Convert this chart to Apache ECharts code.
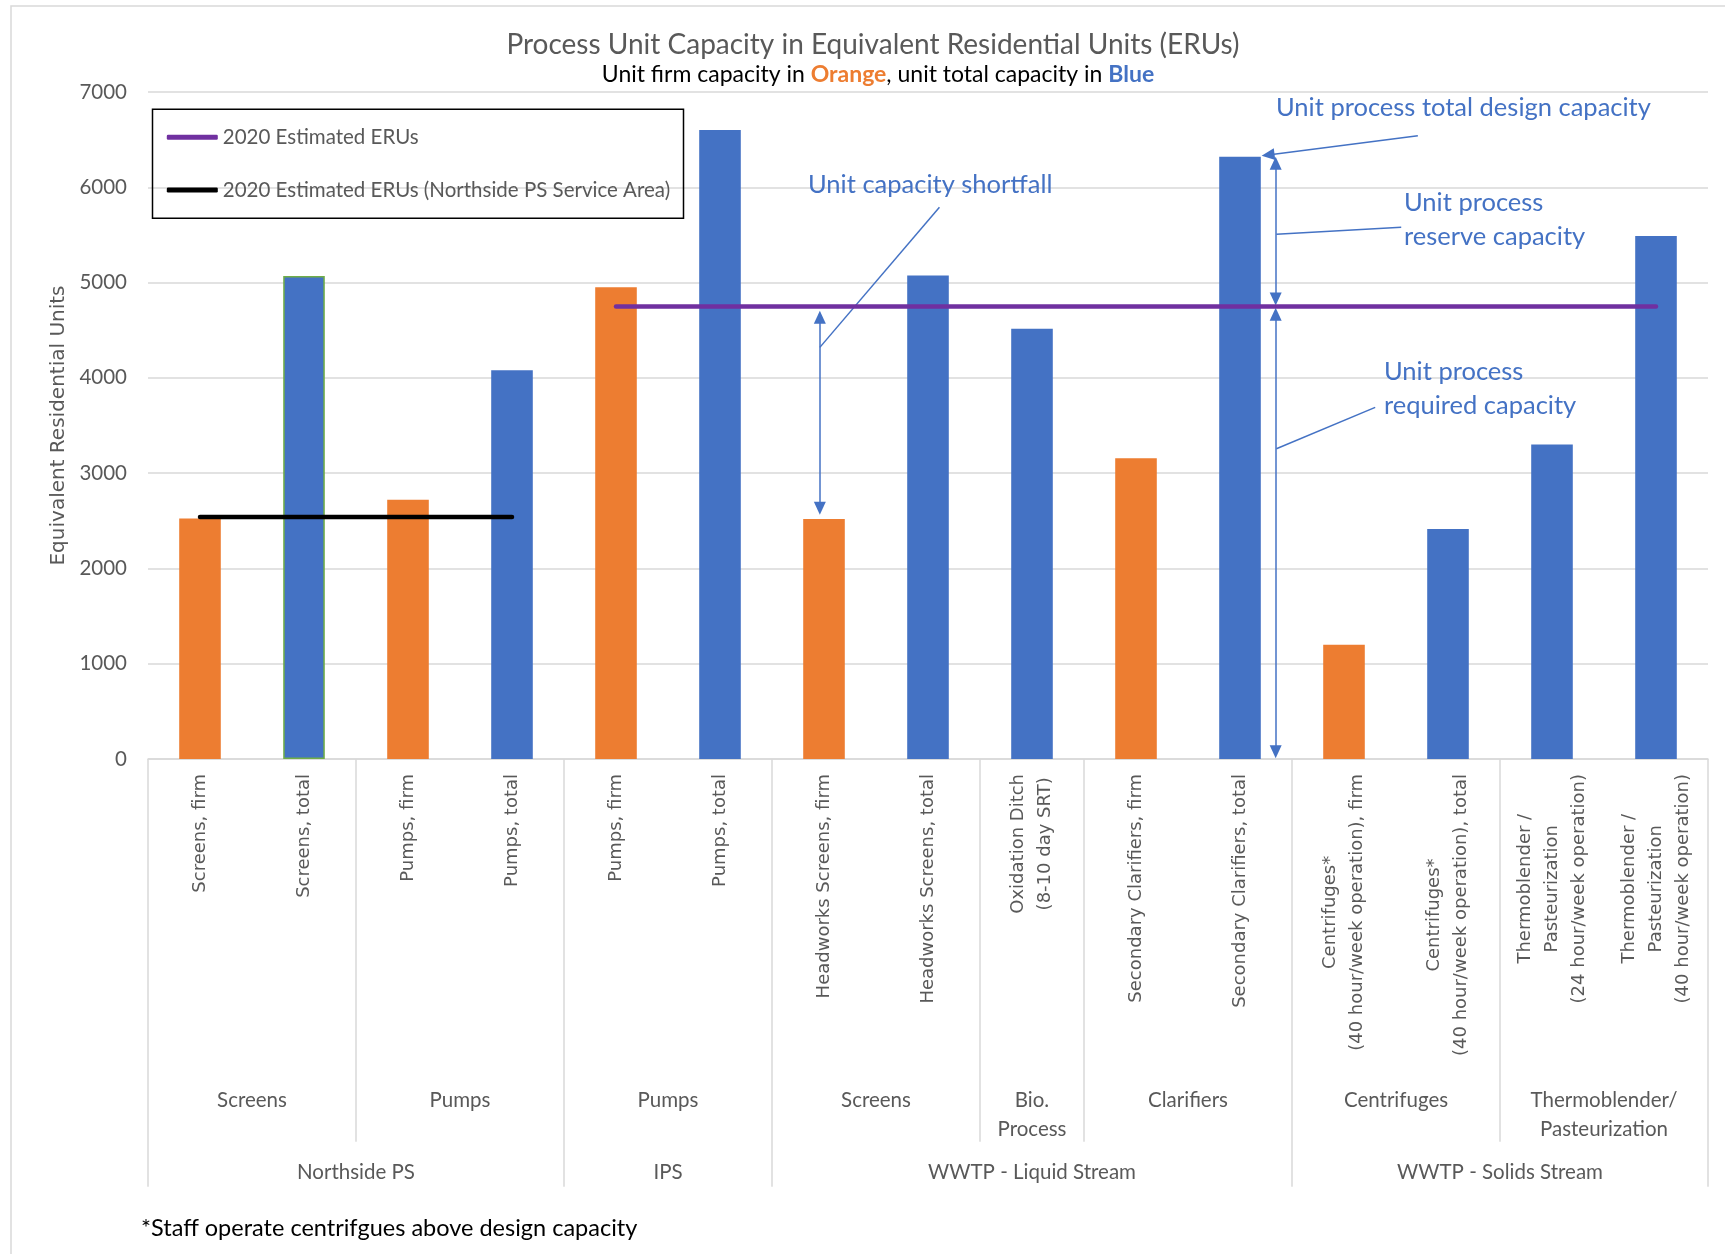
<!DOCTYPE html>
<html><head><meta charset="utf-8">
<script src="https://cdn.jsdelivr.net/npm/echarts@6/dist/echarts.min.js"></script>
<style>html,body{margin:0;padding:0;background:#fff}#c{width:1725px;height:1254px}</style>
</head><body><div id="c"></div>
<script>
// ---------- data ----------
const categories = [
  'Screens, firm', 'Screens, total', 'Pumps, firm', 'Pumps, total',
  'Pumps, firm', 'Pumps, total',
  'Headworks Screens, firm', 'Headworks Screens, total',
  'Oxidation Ditch\n(8-10 day SRT)',
  'Secondary Clarifiers, firm', 'Secondary Clarifiers, total',
  'Centrifuges*\n(40 hour/week operation), firm',
  'Centrifuges*\n(40 hour/week operation), total',
  'Thermoblender /\nPasteurization\n(24 hour/week operation)',
  'Thermoblender /\nPasteurization\n(40 hour/week operation)'
];
const firmValues  = [2525, null, 2720, null, 4950, null, 2520, null, null, 3155, null, 1200, null, null, null];
const totalValues = [null, 5070, null, 4080, null, 6600, null, 5075, 4515, null, 6320, null, 2415, 3300, 5490];
const estimatedERUs = [[4, 4750], [14, 4750]];          // 2020 Estimated ERUs
const northsideERUs = [[0, 2540], [3, 2540]];           // Northside PS Service Area
const yTicks = {min: 0, max: 7000, interval: 1000};
const subGroups = [
  {name: 'Screens', from: 0, to: 1}, {name: 'Pumps', from: 2, to: 3},
  {name: 'Pumps', from: 4, to: 5}, {name: 'Screens', from: 6, to: 7},
  {name: 'Bio.\nProcess', from: 8, to: 8}, {name: 'Clarifiers', from: 9, to: 10},
  {name: 'Centrifuges', from: 11, to: 12}, {name: 'Thermoblender/\nPasteurization', from: 13, to: 14}
];
const groups = [
  {name: 'Northside PS', from: 0, to: 3}, {name: 'IPS', from: 4, to: 5},
  {name: 'WWTP - Liquid Stream', from: 6, to: 10}, {name: 'WWTP - Solids Stream', from: 11, to: 14}
];
// annotation segments in data coordinates: [start, end, arrowAtStart, arrowAtEnd]
const annotationSegments = [
  [[5.96, 4635], [5.96, 2632], true, true],      // shortfall double arrow
  [[7.11, 5790], [5.96, 4320], false, false],    // shortfall leader
  [[11.71, 6540], [10.27, 6339], false, true],   // total design capacity leader
  [[10.343, 6253], [10.343, 4828], true, true],  // reserve double arrow
  [[11.55, 5581], [10.35, 5507], false, false],  // reserve leader
  [[10.343, 4667], [10.343, 77], true, true],    // required double arrow
  [[11.30, 3690], [10.35, 3256], false, false]   // required leader
];

// ---------- styles ----------
const BLUE = '#4472C4', ORANGE = '#ED7D31', GRAY = '#595959', GRIDC = '#D9D9D9';
const arrowHead = {symbol: 'triangle', symbolSize: [12, 13]};
function seg(s) {
  return [Object.assign({coord: s[0]}, s[2] ? arrowHead : {symbol: 'none'}),
          Object.assign({coord: s[1]}, s[3] ? arrowHead : {symbol: 'none'})];
}

const chart = echarts.init(document.getElementById('c'));
const option = {
  animation: false,
  backgroundColor: '#fff',
  grid: {left: 148, right: 17, top: 92, bottom: 495},
  xAxis: [{
    type: 'category', data: categories,
    axisLine: {lineStyle: {color: GRIDC, width: 1.5}},
    axisTick: {show: false},
    axisLabel: {
      interval: 0, rotate: 90, margin: 15, fontFamily: 'DejaVu Sans', fontSize: 18, color: GRAY,
      formatter: v => v.split('\n').map(s => '{c|' + s + '}').join('\n'),
      rich: {c: {align: 'center', fontFamily: 'DejaVu Sans', fontSize: 18, color: GRAY, lineHeight: 27}}
    }
  }, {type: 'value', min: -0.5, max: 14.5, show: false}],
  yAxis: {
    type: 'value', min: yTicks.min, max: yTicks.max, interval: yTicks.interval,
    axisLine: {show: false}, axisTick: {show: false},
    splitLine: {lineStyle: {color: GRIDC, width: 1.5}},
    axisLabel: {margin: 21, color: GRAY, fontFamily: 'Lato', fontSize: 20.5, formatter: v => String(v)},
    name: 'Equivalent Residential Units', nameLocation: 'middle', nameGap: 68,
    nameTextStyle: {fontFamily: 'DejaVu Sans', fontSize: 20, color: GRAY}
  },
  legend: {
    orient: 'vertical', left: 166.8, top: 126.3, padding: 0, itemGap: 30.7,
    itemWidth: 51, itemHeight: 5, selectedMode: false,
    textStyle: {fontFamily: 'Lato', fontSize: 20.5, color: GRAY, lineHeight: 22},
    data: [{name: '2020 Estimated ERUs', icon: 'roundRect', itemStyle: {color: '#7030A0'}},
           {name: '2020 Estimated ERUs (Northside PS Service Area)', icon: 'roundRect', itemStyle: {color: '#000'}}]
  },
  series: [
    {name: 'firm', type: 'bar', data: firmValues, barWidth: '40%', barGap: '-100%', itemStyle: {color: ORANGE}},
    {name: 'total', type: 'bar', barWidth: '40%', barGap: '-100%', itemStyle: {color: BLUE},
     data: totalValues.map((v, i) => i === 1 ? {value: v, itemStyle: {borderColor: '#70AD47', borderWidth: 1.5}} : v)},
    {name: '2020 Estimated ERUs', type: 'line', xAxisIndex: 1, data: estimatedERUs, symbol: 'none', z: 5,
     lineStyle: {color: '#7030A0', width: 4.5, cap: 'round'}, itemStyle: {color: '#7030A0'}},
    {name: '2020 Estimated ERUs (Northside PS Service Area)', type: 'line', xAxisIndex: 1, data: northsideERUs,
     symbol: 'none', z: 5, lineStyle: {color: '#000', width: 4.5, cap: 'round'}, itemStyle: {color: '#000'}},
    {name: 'annotations', type: 'line', xAxisIndex: 1, data: [], z: 6,
     markLine: {silent: true, animation: false, label: {show: false}, symbol: ['none', 'none'],
       lineStyle: {color: BLUE, width: 1.5, type: 'solid'}, emphasis: {disabled: true},
       data: annotationSegments.map(seg)}}
  ]
};
chart.setOption(option);

// ---------- decorations computed from the chart's scales ----------
const px = x => chart.convertToPixel({xAxisIndex: 1}, x);
const py = y => chart.convertToPixel({yAxisIndex: 0}, y);
const axisY = py(0);
const subLabelY = 1100.7, groupLabelY = 1172.7, shortSepEnd = 1141.7, longSepEnd = 1186.7;
const g = [];
g.push({type: 'rect', shape: {x: 11, y: 6, width: 1740, height: 1280}, style: {fill: 'none', stroke: GRIDC, lineWidth: 1.5}, z: -10});
g.push({type: 'text', x: 873, y: 45, style: {text: 'Process Unit Capacity in Equivalent Residential Units (ERUs)',
  fontFamily: 'Lato', fontSize: 28, fill: GRAY, align: 'center', verticalAlign: 'middle'}});
g.push({type: 'text', x: 878, y: 75, style: {
  text: '{k|Unit firm capacity in }{o|Orange}{k|, unit total capacity in }{b|Blue}',
  align: 'center', verticalAlign: 'middle',
  rich: {k: {fontFamily: 'Lato', fontSize: 23, fill: '#000'},
         o: {fontFamily: 'Lato', fontSize: 23, fill: ORANGE, fontWeight: 'bold'},
         b: {fontFamily: 'Lato', fontSize: 23, fill: BLUE, fontWeight: 'bold'}}}});
g.push({type: 'rect', shape: {x: 152.5, y: 109.3, width: 531, height: 109}, style: {fill: 'none', stroke: '#000', lineWidth: 1.5}});
const notes = [
  ['Unit process total design capacity', 1276, 108],
  ['Unit capacity shortfall', 808, 185],
  ['Unit process', 1404, 203], ['reserve capacity', 1404, 237],
  ['Unit process', 1384, 372], ['required capacity', 1384, 406]
];
notes.forEach(n => g.push({type: 'text', x: n[1], y: n[2], style: {text: n[0], fontFamily: 'Lato', fontSize: 25.5, fill: BLUE, align: 'left', verticalAlign: 'middle'}}));
// separators
const longB = [0, 4, 6, 11, 15], shortB = [2, 8, 9, 13];
longB.forEach(b => { const x = px(b - 0.5); g.push({type: 'line', shape: {x1: x, y1: axisY, x2: x, y2: longSepEnd}, style: {stroke: GRIDC, lineWidth: 1.5}}); });
shortB.forEach(b => { const x = px(b - 0.5); g.push({type: 'line', shape: {x1: x, y1: axisY, x2: x, y2: shortSepEnd}, style: {stroke: GRIDC, lineWidth: 1.5}}); });
subGroups.forEach(s => g.push({type: 'text', x: px((s.from + s.to) / 2), y: subLabelY - 14.5, style: {text: s.name,
  fontFamily: 'Lato', fontSize: 20.5, fill: GRAY, align: 'center', verticalAlign: 'top', lineHeight: 29}}));
groups.forEach(s => g.push({type: 'text', x: px((s.from + s.to) / 2), y: groupLabelY, style: {text: s.name,
  fontFamily: 'Lato', fontSize: 20.5, fill: GRAY, align: 'center', verticalAlign: 'middle'}}));
g.push({type: 'text', x: 141, y: 1228, style: {text: '*Staff operate centrifgues above design capacity',
  fontFamily: 'Lato', fontSize: 23.5, fill: '#000', align: 'left', verticalAlign: 'middle'}});
chart.setOption({graphic: g});
</script></body></html>
